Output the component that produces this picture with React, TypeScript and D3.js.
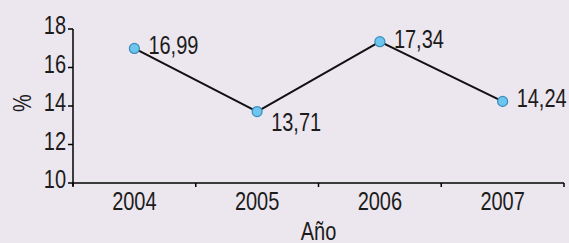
import React, { useEffect, useRef } from 'react'
import * as d3 from 'd3'

const years = ['2004', '2005', '2006', '2007']
const values = [16.99, 13.71, 17.34, 14.24]
const valueLabels = ['16,99', '13,71', '17,34', '14,24']
const yTicks = [10, 12, 14, 16, 18]

export default function App() {
    const ref = useRef<SVGSVGElement>(null)

    useEffect(() => {
        const width = 569
        const height = 243
        const left = 73
        const right = 564
        const top = 29
        const bottom = 183
        const font = "'Liberation Sans', Arial, sans-serif"
        const squeeze = 0.8

        const svg = d3.select(ref.current!)
        svg.selectAll('*').remove()
        svg.attr('width', width).attr('height', height)

        svg.append('rect').attr('width', width).attr('height', height).attr('fill', '#ECE6EE')

        // narrow text: Liberation Sans squeezed horizontally
        const label = (g: d3.Selection<any, any, any, any>, tx: number, ty: number, s: string, anchor = 'start', rot = 0) => {
            g.append('text')
                .attr('transform', `translate(${tx},${ty}) rotate(${rot}) scale(${squeeze},1)`)
                .attr('text-anchor', anchor)
                .attr('font-family', font).attr('font-size', 25).attr('fill', '#1c1c1c')
                .text(s)
        }

        const x = d3.scaleBand<string>().domain(years).range([left, right])
        const y = d3.scaleLinear().domain([10, 18]).range([bottom, top])

        // y axis
        const yg = svg.append('g')
        yg.append('line').attr('x1', left).attr('x2', left).attr('y1', top).attr('y2', bottom + 3)
            .attr('stroke', '#000').attr('stroke-width', 1.5)
        yTicks.forEach(t => {
            yg.append('line').attr('x1', left - 5).attr('x2', left).attr('y1', y(t)).attr('y2', y(t))
                .attr('stroke', '#000').attr('stroke-width', 1.5)
            label(yg, left - 7, y(t) + 5, String(t), 'end')
        })

        // x axis
        const xg = svg.append('g').attr('transform', `translate(0,${bottom})`)
        xg.append('line').attr('x1', left).attr('x2', right).attr('stroke', '#000').attr('stroke-width', 1.5)
        const bounds = years.map(d => x(d)!).concat([right])
        xg.selectAll('line.tk').data(bounds).join('line').attr('class', 'tk')
            .attr('x1', d => d).attr('x2', d => d).attr('y1', 0).attr('y2', 4)
            .attr('stroke', '#000').attr('stroke-width', 1.5)
        years.forEach(d => label(xg, x(d)! + x.bandwidth() / 2, 27, d, 'middle'))

        // axis titles
        label(svg, 31, (top + bottom) / 2 - 3, '%', 'middle', -90)
        label(svg, (left + right) / 2, 240, 'Año', 'middle')

        const px = (i: number) => x(years[i])! + x.bandwidth() / 2

        // line
        const line = d3.line<number>().x((_, i) => px(i)).y(d => y(d))
        svg.append('path').datum(values).attr('d', line)
            .attr('fill', 'none').attr('stroke', '#111').attr('stroke-width', 2)

        // points
        svg.selectAll('circle.pt').data(values).join('circle').attr('class', 'pt')
            .attr('cx', (_, i) => px(i)).attr('cy', d => y(d)).attr('r', 5)
            .attr('fill', '#6EC6EE').attr('stroke', '#3B8DBE').attr('stroke-width', 1.2)

        // value labels (a local low gets its label below)
        values.forEach((d, i) => {
            const low = i > 0 && i < values.length - 1 && d < values[i - 1] && d < values[i + 1]
            label(svg, px(i) + 14, y(d) + (low ? 19 : 6), valueLabels[i])
        })
    }, [])

    return (
        <svg ref={ref} style={{ position: 'fixed', left: 0, top: 0, display: 'block' }}></svg>
    )
}
